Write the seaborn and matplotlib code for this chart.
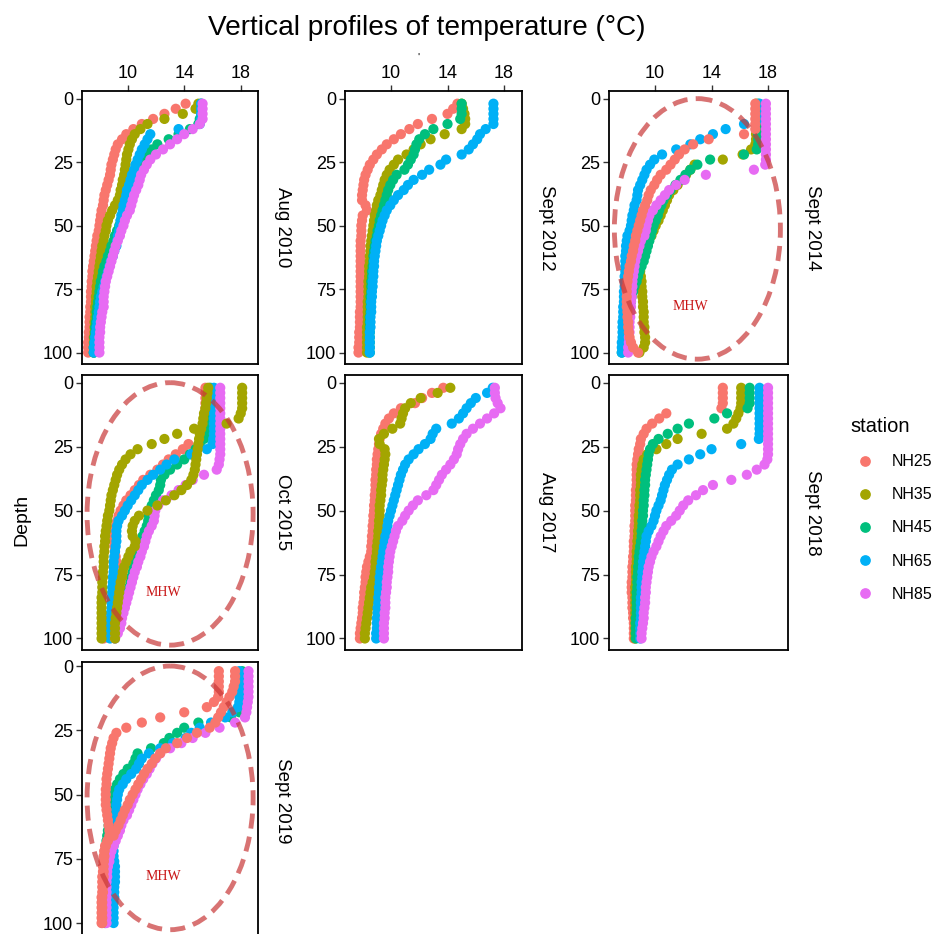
import pandas as pd
import matplotlib.pyplot as plt
from matplotlib.patches import Ellipse
from matplotlib.lines import Line2D
import seaborn as sns

# Depth levels of the CTD profiles (m)
depth = [2, 4, 6, 8, 10, 12, 14, 16, 18, 20, 22, 24, 26, 28, 30, 32, 34, 36, 38, 40,
         42, 44, 46, 48, 50, 52, 54, 56, 58, 60, 62, 64, 66, 68, 70, 72, 74, 76, 78, 80,
         82, 84, 86, 88, 90, 92, 94, 96, 98, 100]

stations = ["NH25", "NH35", "NH45", "NH65", "NH85"]
palette = ["#F8766D", "#A3A500", "#00BF7D", "#00B0F6", "#E76BF3"]
cruises = ["Aug 2010", "Sept 2012", "Sept 2014", "Oct 2015", "Aug 2017", "Sept 2018", "Sept 2019"]
mhw_cruises = ["Sept 2014", "Oct 2015", "Sept 2019"]

# Aug 2010
aug10_nh25 = [14.1, 13.4, 12.6, 11.8, 11.0, 10.4, 9.9, 9.6, 9.3, 9.15,
              9.05, 8.95, 8.85, 8.8, 8.75, 8.65, 8.55, 8.45, 8.35, 8.3,
              8.25, 8.15, 8.1, 8.05, 8.0, 7.95, 7.85, 7.8, 7.75, 7.7,
              7.65, 7.6, 7.55, 7.5, 7.5, 7.45, 7.45, 7.4, 7.4, 7.4,
              7.35, 7.35, 7.3, 7.3, 7.3, 7.25, 7.25, 7.2, 7.2, 7.2]
aug10_nh35 = [15.0, 14.8, 13.9, 12.6, 11.4, 10.9, 10.5, 10.3, 10.15, 10.05,
              9.95, 9.9, 9.85, 9.8, 9.75, 9.65, 9.6, 9.5, 9.45, 9.3,
              9.1, 8.9, 8.75, 8.6, 8.5, 8.45, 8.35, 8.3, 8.2, 8.15,
              8.1, 8.05, 8.0, 7.95, 7.9, 7.85, 7.8, 7.8, 7.75, 7.75,
              7.7, 7.7, 7.7, 7.65, 7.65, 7.65, 7.6, 7.6, 7.6, 7.6]
aug10_nh45 = [15.2, 15.2, 15.2, 15.1, 15.0, 14.4, 13.6, 12.9, 12.1, 11.7,
              11.4, 11.1, 10.95, 10.8, 10.65, 10.5, 10.4, 10.3, 10.2, 10.1,
              9.95, 9.8, 9.65, 9.5, 9.4, 9.25, 9.1, 9.0, 8.85, 8.75,
              8.6, 8.5, 8.35, 8.25, 8.2, 8.1, 8.05, 8.0, 7.95, 7.9,
              7.85, 7.8, 7.8, 7.75, 7.7, 7.7, 7.65, 7.65, 7.6, 7.6]
aug10_nh65 = [15.2, 15.2, 15.2, 15.2, 15.1, 13.6, 11.6, 11.4, 11.2, 11.0,
              10.85, 10.7, 10.55, 10.45, 10.3, 10.2, 10.1, 9.95, 9.9, 9.8,
              9.7, 9.65, 9.55, 9.5, 9.45, 9.4, 9.3, 9.25, 9.2, 9.05,
              8.95, 8.8, 8.7, 8.6, 8.5, 8.4, 8.3, 8.2, 8.1, 8.05,
              8.0, 7.95, 7.9, 7.85, 7.8, 7.75, 7.7, 7.65, 7.6, 7.6]
aug10_nh85 = [15.3, 15.3, 15.3, 15.3, 15.1, 14.6, 14.0, 13.5, 13.0, 12.5,
              12.0, 11.6, 11.35, 11.15, 10.95, 10.85, 10.75, 10.6, 10.45, 10.35,
              10.25, 10.15, 9.95, 9.8, 9.7, 9.55, 9.45, 9.3, 9.15, 9.05,
              8.95, 8.85, 8.75, 8.65, 8.55, 8.45, 8.4, 8.35, 8.3, 8.3,
              8.3, 8.2, 8.15, 8.1, 8.05, 8.05, 8.0, 8.0, 8.0, 8.0]

# Sept 2012
sep12_nh25 = [14.7, 14.4, 14.0, 12.9, 11.9, 11.3, 10.7, 10.2, 9.7, 9.35,
              9.0, 8.75, 8.5, 8.35, 8.2, 8.1, 8.05, 8.0, 7.95, 7.95,
              8.2, 8.3, 8.0, 7.95, 7.9, 7.9, 7.9, 7.85, 7.85, 7.85,
              7.85, 7.85, 7.85, 7.85, 7.85, 7.85, 7.85, 7.85, 7.85, 7.85,
              7.85, 7.8, 7.8, 7.8, 7.8, 7.75, 7.75, 7.75, 7.7, 7.7]
sep12_nh35 = [15.0, 15.1, 15.2, 15.25, 15.25, 15.0, 13.8, 12.8, 12.1, 11.6,
              11.1, 10.5, 10.2, 9.9, 9.7, 9.55, 9.45, 9.35, 9.25, 9.1,
              9.0, 8.95, 8.85, 8.8, 8.75, 8.7, 8.65, 8.6, 8.55, 8.55,
              8.5, 8.5, 8.45, 8.45, 8.45, 8.4, 8.4, 8.4, 8.4, 8.35,
              8.35, 8.35, 8.35, 8.35, 8.3, 8.3, 8.3, 8.3, 8.3, 8.3]
sep12_nh45 = [15.0, 15.0, 15.0, 14.9, 14.0, 13.0, 12.4, 12.0, 11.8, 11.7,
              11.6, 11.4, 11.2, 10.95, 10.4, 10.15, 9.95, 9.8, 9.7, 9.6,
              9.5, 9.4, 9.3, 9.2, 9.15, 9.05, 9.0, 8.9, 8.85, 8.8,
              8.75, 8.75, 8.7, 8.65, 8.65, 8.6, 8.6, 8.6, 8.55, 8.55,
              8.55, 8.55, 8.5, 8.5, 8.5, 8.5, 8.5, 8.5, 8.5, 8.5]
sep12_nh65 = [17.25, 17.25, 17.25, 17.25, 17.25, 16.7, 16.3, 16.1, 15.8, 15.5,
              15.0, 13.9, 13.5, 12.7, 12.2, 11.6, 11.2, 10.9, 10.5, 10.2,
              9.95, 9.7, 9.55, 9.4, 9.3, 9.2, 9.1, 9.0, 8.95, 8.9,
              8.85, 8.8, 8.8, 8.75, 8.75, 8.7, 8.7, 8.65, 8.65, 8.6,
              8.6, 8.6, 8.55, 8.55, 8.55, 8.5, 8.5, 8.5, 8.5, 8.5]

# Sept 2014
sep14_nh25 = [17.1, 17.1, 17.1, 17.1, 17.1, 17.1, 16.3, 13.8, 12.7, 12.1,
              11.7, 11.4, 11.1, 10.8, 10.4, 10.15, 9.95, 9.7, 9.55, 9.45,
              9.3, 9.15, 9.05, 8.95, 8.85, 8.75, 8.65, 8.6, 8.5, 8.45,
              8.35, 8.3, 8.2, 8.15, 8.1, 8.05, 8.0, 8.0, 8.0, 8.0,
              8.0, 8.05, 8.05, 8.1, 8.1, 8.15, 8.2, 8.3, 8.45, 8.8]
sep14_nh35 = [17.15, 17.15, 17.15, 17.15, 17.15, 17.15, 17.15, 17.15, 17.1, 16.8,
              16.2, 14.8, 12.8, 12.5, 12.2, 11.9, 11.6, 11.3, 11.0, 10.85,
              10.7, 10.55, 10.4, 10.25, 10.05, 9.9, 9.75, 9.55, 9.4, 9.2,
              9.0, 8.9, 8.9, 8.95, 9.0, 9.05, 9.05, 9.1, 9.1, 9.15,
              9.15, 9.2, 9.2, 9.2, 9.25, 9.25, 9.3, 9.3, 9.2, 8.9]
sep14_nh45 = [17.3, 17.3, 17.3, 17.3, 17.3, 17.3, 17.3, 17.3, 17.3, 17.2,
              16.3, 13.9, 13.0, 12.5, 12.15, 11.8, 11.45, 11.1, 10.85, 10.6,
              10.45, 10.3, 10.2, 10.05, 9.9, 9.8, 9.7, 9.6, 9.5, 9.4,
              9.3, 9.2, 9.05, 8.9, 8.8, 8.7, 8.55, 8.45, 8.35, 8.3,
              8.25, 8.15, 8.05, 8.0, 7.9, 7.85, 7.8, 7.75, 7.7, 7.65]
sep14_nh65 = [17.4, 17.4, 17.4, 17.4, 16.3, 15.0, 14.1, 13.2, 12.5, 11.5,
              10.5, 9.95, 9.65, 9.4, 9.25, 9.1, 8.95, 8.8, 8.75, 8.7,
              8.55, 8.5, 8.4, 8.35, 8.3, 8.2, 8.05, 8.0, 7.95, 7.95,
              7.9, 7.9, 7.9, 7.9, 7.85, 7.85, 7.85, 7.8, 7.8, 7.8,
              7.75, 7.75, 7.75, 7.7, 7.7, 7.7, 7.7, 7.65, 7.65, 7.65]
sep14_nh85 = [17.85, 17.85, 17.85, 17.85, 17.85, 17.85, 17.85, 17.85, 17.85, 17.85,
              17.85, 17.85, 17.8, 17.0, 13.6, 12.1, 11.5, 11.0, 10.7, 10.4,
              10.1, 9.85, 9.6, 9.5, 9.4, 9.35, 9.25, 9.0, 8.9, 8.8,
              8.7, 8.6, 8.55, 8.5, 8.45, 8.4, 8.4, 8.35, 8.35, 8.3,
              8.3, 8.25, 8.25, 8.2, 8.2, 8.2, 8.15, 8.15, 8.1, 8.1]

# Oct 2015 (two casts at NH35)
oct15_nh25 = [15.5, 15.5, 15.5, 15.5, 15.5, 15.45, 15.4, 15.4, 15.35, 15.3,
              15.2, 14.3, 13.9, 13.4, 12.9, 12.5, 12.1, 11.6, 11.1, 10.8,
              10.5, 10.2, 9.9, 9.7, 9.5, 9.35, 9.25, 9.15, 9.05, 9.0,
              9.0, 9.05, 9.1, 9.15, 9.2, 9.2, 9.2, 9.15, 9.1, 9.05,
              9.05, 9.0, 9.0, 8.95, 8.9, 8.8, 8.7, 8.6, 8.45, 8.3]
oct15_nh35a = [18.1, 18.1, 18.1, 18.1, 18.1, 18.0, 17.85, 17.0, 14.7, 13.5,
               12.6, 11.7, 10.7, 10.2, 9.85, 9.6, 9.4, 9.25, 9.15, 9.05,
               8.95, 8.85, 8.8, 8.75, 8.7, 8.6, 8.55, 8.5, 8.45, 8.4,
               8.4, 8.35, 8.35, 8.3, 8.3, 8.3, 8.25, 8.25, 8.2, 8.2,
               8.2, 8.15, 8.15, 8.15, 8.15, 8.15, 8.15, 8.15, 8.15, 8.15]
oct15_nh35b = [15.7, 15.65, 15.6, 15.55, 15.5, 15.4, 15.35, 15.3, 15.2, 15.1,
               15.05, 15.0, 14.95, 14.9, 14.85, 14.8, 14.75, 14.65, 14.5, 14.2,
               13.8, 13.3, 12.7, 12.1, 11.4, 10.8, 10.5, 10.35, 10.3, 10.35,
               10.55, 10.5, 10.2, 10.05, 9.9, 9.75, 9.65, 9.6, 9.5, 9.45,
               9.4, 9.35, 9.3, 9.25, 9.2, 9.15, 9.1, 9.1, 9.1, 9.1]
oct15_nh45 = [15.85, 15.85, 15.85, 15.85, 15.85, 15.85, 15.85, 15.8, 15.75, 15.6,
              15.4, 15.1, 14.8, 14.4, 14.0, 13.5, 13.0, 12.6, 12.35, 12.3,
              12.2, 12.0, 11.85, 11.7, 11.6, 11.5, 11.45, 11.35, 11.2, 11.05,
              10.95, 10.85, 10.75, 10.65, 10.55, 10.45, 10.35, 10.25, 10.2, 10.1,
              10.0, 9.9, 9.8, 9.7, 9.6, 9.5, 9.4, 9.3, 9.15, 9.1]
oct15_nh65 = [16.1, 16.1, 16.1, 16.1, 16.1, 16.1, 16.1, 16.1, 16.1, 16.1,
              16.05, 16.0, 15.6, 14.5, 13.3, 12.75, 12.3, 11.8, 11.4, 11.0,
              10.75, 10.5, 10.25, 10.0, 9.8, 9.6, 9.35, 9.25, 9.2, 9.2,
              9.2, 9.15, 9.1, 9.05, 9.0, 9.0, 9.0, 8.95, 8.95, 8.9,
              8.9, 8.85, 8.85, 8.85, 8.8, 8.8, 8.8, 8.75, 8.75, 8.75]
oct15_nh85 = [16.55, 16.55, 16.55, 16.55, 16.55, 16.55, 16.55, 16.55, 16.55, 16.55,
              16.55, 16.55, 16.55, 16.55, 16.5, 16.45, 16.3, 15.4, 14.6, 14.1,
              13.6, 13.1, 12.5, 12.15, 11.95, 11.9, 11.85, 11.7, 11.5, 11.35,
              11.25, 11.15, 11.0, 10.9, 10.75, 10.65, 10.5, 10.4, 10.3, 10.2,
              10.1, 10.0, 9.9, 9.8, 9.7, 9.6, 9.55, 9.45, 9.3, 9.1]

# Aug 2017
aug17_nh25 = [13.7, 12.9, 12.2, 11.7, 10.7, 10.2, 9.85, 9.6, 9.45, 9.3,
              9.2, 9.15, 9.1, 9.05, 9.0, 9.0, 8.95, 8.95, 8.9, 8.9,
              8.9, 8.85, 8.85, 8.8, 8.8, 8.75, 8.75, 8.7, 8.7, 8.65,
              8.65, 8.6, 8.6, 8.5, 8.4, 8.3, 8.25, 8.2, 8.2, 8.15,
              8.1, 8.1, 8.05, 8.0, 8.0, 7.95, 7.9, 7.85, 7.8, 7.8]
aug17_nh35 = [14.2, 13.3, 12.1, 11.4, 11.0, 10.85, 10.75, 10.65, 10.1, 9.5,
              9.15, 9.2, 9.55, 9.6, 9.55, 9.5, 9.45, 9.4, 9.4, 9.35,
              9.3, 9.3, 9.25, 9.2, 9.2, 9.2, 9.15, 9.15, 9.1, 9.1,
              9.05, 9.0, 9.0, 8.95, 8.9, 8.9, 8.85, 8.8, 8.7, 8.6,
              8.55, 8.5, 8.45, 8.4, 8.35, 8.3, 8.25, 8.2, 8.15, 8.15]
aug17_nh65 = [17.2, 16.8, 16.0, 15.65, 15.35, 15.1, 14.8, 14.3, 13.2, 12.95,
              12.8, 12.4, 11.95, 11.6, 11.25, 11.0, 10.85, 10.7, 10.6, 10.5,
              10.4, 10.3, 10.2, 10.1, 10.0, 9.9, 9.8, 9.75, 9.7, 9.6,
              9.55, 9.5, 9.45, 9.4, 9.35, 9.3, 9.25, 9.2, 9.2, 9.15,
              9.15, 9.1, 9.1, 9.05, 9.05, 9.0, 9.0, 9.0, 8.95, 8.95]
aug17_nh85 = [17.35, 17.35, 17.4, 17.55, 17.75, 17.3, 16.8, 16.3, 15.8, 15.35,
              15.1, 14.9, 14.75, 14.65, 14.45, 14.2, 13.9, 13.6, 13.4, 13.2,
              13.0, 12.5, 11.9, 11.55, 11.25, 11.0, 10.8, 10.5, 10.35, 10.25,
              10.15, 10.05, 9.95, 9.9, 9.85, 9.8, 9.8, 9.75, 9.7, 9.7,
              9.65, 9.6, 9.6, 9.6, 9.55, 9.55, 9.5, 9.5, 9.5, 9.5]

# Sept 2018
sep18_nh25 = [14.8, 14.8, 14.8, 14.8, 14.7, 10.8, 10.3, 9.8, 9.4, 9.2,
              9.0, 8.95, 8.85, 8.8, 8.75, 8.7, 8.7, 8.7, 8.7, 8.7,
              8.65, 8.65, 8.65, 8.6, 8.6, 8.6, 8.6, 8.55, 8.55, 8.55,
              8.5, 8.5, 8.5, 8.45, 8.45, 8.4, 8.4, 8.4, 8.35, 8.35,
              8.35, 8.4, 8.4, 8.4, 8.45, 8.45, 8.5, 8.5, 8.5, 8.5]
sep18_nh35 = [16.1, 16.1, 16.1, 16.1, 16.05, 15.9, 15.75, 15.55, 15.1, 13.3,
              11.6, 10.8, 10.1, 9.45, 9.2, 9.1, 9.05, 9.0, 9.0, 9.0,
              8.95, 8.95, 8.95, 8.9, 8.9, 8.85, 8.85, 8.85, 8.8, 8.8,
              8.75, 8.75, 8.7, 8.7, 8.7, 8.65, 8.65, 8.65, 8.65, 8.6,
              8.6, 8.6, 8.6, 8.6, 8.6, 8.6, 8.6, 8.6, 8.6, 8.6]
sep18_nh45 = [16.7, 16.7, 16.7, 16.7, 16.55, 15.1, 14.2, 12.4, 11.6, 10.9,
              10.25, 9.85, 9.65, 9.55, 9.5, 9.45, 9.4, 9.35, 9.3, 9.3,
              9.25, 9.25, 9.2, 9.2, 9.15, 9.15, 9.1, 9.1, 9.05, 9.05,
              9.0, 8.95, 8.9, 8.85, 8.85, 8.8, 8.8, 8.75, 8.75, 8.75,
              8.7, 8.7, 8.7, 8.7, 8.7, 8.65, 8.65, 8.65, 8.65, 8.65]
sep18_nh65 = [17.4, 17.4, 17.4, 17.4, 17.4, 17.4, 17.4, 17.4, 17.4, 17.4,
              17.35, 16.1, 14.0, 13.2, 12.4, 11.6, 11.2, 11.0, 10.85, 10.7,
              10.6, 10.5, 10.4, 10.25, 10.1, 10.0, 9.9, 9.75, 9.55, 9.4,
              9.35, 9.3, 9.25, 9.2, 9.15, 9.15, 9.1, 9.1, 9.05, 9.05,
              9.05, 9.0, 9.0, 9.0, 9.0, 9.0, 8.95, 8.95, 8.95, 8.95]
sep18_nh85 = [18.0, 18.0, 18.0, 18.0, 18.0, 18.0, 18.0, 18.0, 18.0, 18.0,
              18.0, 18.0, 18.0, 18.0, 17.95, 17.75, 17.2, 16.5, 15.4, 14.1,
              13.4, 12.9, 12.35, 12.0, 11.75, 11.5, 11.15, 10.8, 10.6, 10.4,
              10.25, 10.1, 9.9, 9.75, 9.65, 9.55, 9.5, 9.45, 9.4, 9.35,
              9.35, 9.3, 9.3, 9.25, 9.2, 9.2, 9.15, 9.1, 9.05, 9.05]

# Sept 2019 (two casts at NH25)
sep19_nh25a = [16.45, 16.45, 16.45, 16.45, 16.45, 16.4, 16.1, 15.6, 14.0, 12.3,
               11.0, 9.9, 9.2, 9.0, 8.9, 8.8, 8.75, 8.7, 8.65, 8.6,
               8.55, 8.5, 8.5, 8.45, 8.45, 8.45, 8.45, 8.5, 8.55, 8.6,
               8.65, 8.7, 8.7, 8.55, 8.4, 8.35, 8.3, 8.3, 8.25, 8.25,
               8.2, 8.2, 8.2, 8.2, 8.15, 8.15, 8.15, 8.15, 8.15, 8.15]
sep19_nh25b = [17.6, 17.6, 17.6, 17.5, 17.4, 17.2, 17.0, 16.8, 16.6, 16.4,
               16.2, 15.8, 14.9, 14.2, 13.5, 12.7, 12.3, 11.95, 11.7, 11.4,
               11.15, 10.95, 10.75, 10.55, 10.35, 10.15, 10.0, 9.8, 9.65, 9.5,
               9.35, 9.15, 9.0, 8.6, 8.45, 8.35, 8.35, 8.3, 8.3, 8.3,
               8.3, 8.25, 8.25, 8.25, 8.2, 8.2, 8.2, 8.2, 8.2, 8.2]
sep19_nh45 = [18.1, 18.1, 18.1, 18.1, 18.1, 18.1, 18.1, 18.05, 17.9, 17.3,
              15.0, 14.0, 13.5, 12.95, 12.55, 11.65, 10.7, 10.55, 10.4, 10.0,
              9.7, 9.45, 9.25, 9.1, 8.95, 8.9, 8.85, 8.8, 8.75, 8.7,
              8.65, 8.6, 8.55, 8.5, 8.5, 8.45, 8.45, 8.45, 8.4, 8.4,
              8.4, 8.4, 8.4, 8.4, 8.4, 8.4, 8.4, 8.4, 8.4, 8.4]
sep19_nh65 = [17.9, 17.9, 17.9, 17.9, 17.9, 17.9, 17.9, 17.8, 17.4, 16.9,
              15.9, 15.1, 14.5, 14.1, 13.2, 12.3, 11.5, 11.0, 10.8, 10.6,
              10.25, 9.9, 9.65, 9.4, 9.3, 9.25, 9.2, 9.2, 9.2, 9.15,
              9.1, 9.1, 9.05, 9.05, 9.0, 9.0, 9.0, 9.05, 9.1, 9.1,
              9.1, 9.1, 9.05, 9.05, 9.05, 9.0, 9.0, 9.0, 9.0, 9.0]
sep19_nh85 = [18.55, 18.55, 18.55, 18.55, 18.55, 18.55, 18.5, 18.45, 18.4, 18.3,
              17.6, 16.5, 15.5, 14.6, 13.8, 13.0, 12.3, 12.0, 11.75, 11.55,
              11.35, 11.1, 10.9, 10.7, 10.55, 10.4, 10.25, 10.1, 9.95, 9.7,
              9.55, 9.45, 9.3, 9.15, 9.0, 8.85, 8.75, 8.7, 8.6, 8.55,
              8.55, 8.5, 8.5, 8.5, 8.5, 8.5, 8.5, 8.5, 8.5, 8.5]

# cruise, station, temperatures (listed in drawing order)
profiles = [
    ("Aug 2010", "NH25", aug10_nh25), ("Aug 2010", "NH35", aug10_nh35),
    ("Aug 2010", "NH45", aug10_nh45), ("Aug 2010", "NH65", aug10_nh65),
    ("Aug 2010", "NH85", aug10_nh85),
    ("Sept 2012", "NH25", sep12_nh25), ("Sept 2012", "NH35", sep12_nh35),
    ("Sept 2012", "NH45", sep12_nh45), ("Sept 2012", "NH65", sep12_nh65),
    ("Sept 2014", "NH35", sep14_nh35), ("Sept 2014", "NH45", sep14_nh45),
    ("Sept 2014", "NH65", sep14_nh65), ("Sept 2014", "NH85", sep14_nh85),
    ("Sept 2014", "NH25", sep14_nh25),
    ("Oct 2015", "NH25", oct15_nh25), ("Oct 2015", "NH45", oct15_nh45),
    ("Oct 2015", "NH65", oct15_nh65), ("Oct 2015", "NH85", oct15_nh85),
    ("Oct 2015", "NH35", oct15_nh35a), ("Oct 2015", "NH35", oct15_nh35b),
    ("Aug 2017", "NH25", aug17_nh25), ("Aug 2017", "NH35", aug17_nh35),
    ("Aug 2017", "NH65", aug17_nh65), ("Aug 2017", "NH85", aug17_nh85),
    ("Sept 2018", "NH25", sep18_nh25), ("Sept 2018", "NH35", sep18_nh35),
    ("Sept 2018", "NH45", sep18_nh45), ("Sept 2018", "NH65", sep18_nh65),
    ("Sept 2018", "NH85", sep18_nh85),
    ("Sept 2019", "NH45", sep19_nh45), ("Sept 2019", "NH65", sep19_nh65),
    ("Sept 2019", "NH85", sep19_nh85), ("Sept 2019", "NH25", sep19_nh25a),
    ("Sept 2019", "NH25", sep19_nh25b),
]

frames = []
for cruise, station, temp in profiles:
    frames.append(pd.DataFrame({"cruise": cruise, "station": station,
                                "depth": depth, "temp": temp}))
df = pd.concat(frames, ignore_index=True)

sns.set_style("ticks")
plt.rcParams["font.family"] = ["Liberation Sans", "DejaVu Sans"]
plt.rcParams["text.color"] = "black"

W, H = 939, 934
fig = plt.figure(figsize=(W / 100, H / 100), dpi=100)


def px_rect(left, top, width, height):
    return [left / W, 1 - (top + height) / H, width / W, height / H]


# panel layout in pixels
col_left = [82, 345, 609]
col_width = [176, 177, 179]
col_x10 = [127.7, 391, 655]
row_top = [91, 375, 662]
row_height = [273, 275, 278]
row_ylim = [(104.5, -3), (104.5, -3), (106.6, -1.56)]
px_per_deg = 14.13

for i, cruise in enumerate(cruises):
    r, c = divmod(i, 3)
    ax = fig.add_axes(px_rect(col_left[c], row_top[r], col_width[c], row_height[r]))
    sub = df[df["cruise"] == cruise]
    sns.scatterplot(data=sub, x="temp", y="depth", hue="station", hue_order=stations,
                    palette=palette, s=54, linewidth=0, alpha=1, legend=False, ax=ax)
    x0 = 10 - (col_x10[c] - col_left[c]) / px_per_deg
    ax.set_xlim(x0, x0 + col_width[c] / px_per_deg)
    ax.set_ylim(*row_ylim[r])
    ax.set_yticks([0, 25, 50, 75, 100])
    if r == 0:
        ax.xaxis.tick_top()
        ax.set_xticks([10, 14, 18])
    else:
        ax.set_xticks([])
    ax.set_xlabel("")
    ax.set_ylabel("")
    ax.tick_params(length=4, width=1, color="#333333", labelsize=13, pad=2.5,
                   labelcolor="black")
    for sp in ax.spines.values():
        sp.set_visible(True)
        sp.set_color("black")
        sp.set_linewidth(1.3)

    # facet label on the right
    ax.text(1 + 25 / col_width[c], 0.5, cruise, transform=ax.transAxes, rotation=270,
            ha="center", va="center", fontsize=13.5)

    # marine heat wave marker
    if cruise in mhw_cruises:
        ax.add_patch(Ellipse((13, 51.3), width=11.75, height=102.6, fill=False,
                             edgecolor="#C83838", alpha=0.7, linewidth=3.5,
                             linestyle=(0, (3.1, 1.7)), zorder=5))
        ax.text(12.5, 82, "MHW", color="#C81414", fontsize=10, ha="center",
                va="center", family="Liberation Serif", zorder=6)

fig.text(426.5 / W, 1 - 28 / H, "Vertical profiles of temperature (°C)",
         ha="center", va="center", fontsize=20.2)
fig.text(418 / W, 1 - 58 / H, "'", ha="center", va="center", fontsize=8)
fig.text(22 / W, 1 - 520 / H, "Depth", rotation=90, ha="center", va="center",
         fontsize=14)

# legend
fig.text(850 / W, 1 - 427 / H, "station", ha="left", va="center", fontsize=14.5)
handles = [Line2D([], [], marker="o", linestyle="", color=col, markersize=6.7)
           for col in palette]
fig.legend(handles, stations, loc="center left", bbox_to_anchor=(850.5 / W, 1 - 528 / H),
           borderaxespad=0, frameon=False, fontsize=11.5, handlelength=1.0,
           handletextpad=1.2, labelspacing=1.13)

fig.savefig("out.png", dpi=100)
